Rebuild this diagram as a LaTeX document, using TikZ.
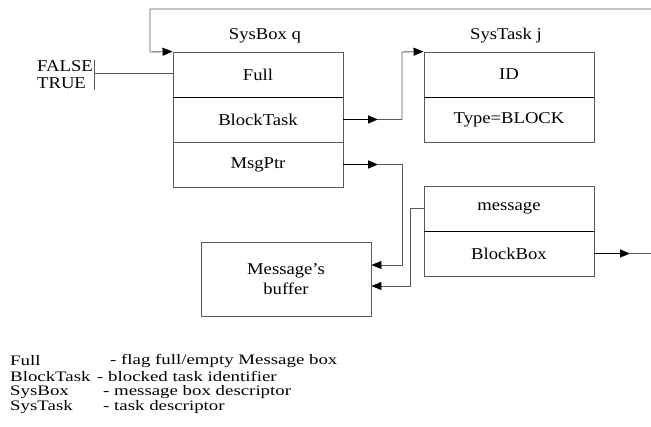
\documentclass[tikz,border=0pt]{standalone}
\usepackage{fontspec}
\setmainfont{Liberation Serif}
\newfontfamily\diagfont[FakeStretch=1.13]{Liberation Serif}
\newfontfamily\legfont[FakeStretch=1.3]{Liberation Serif}
\usetikzlibrary{arrows.meta}
\begin{document}
\begin{tikzpicture}[x=1pt,y=-1pt,
  field/.style={draw=black!65, line width=0.9pt, minimum width=170pt, minimum height=45pt,
    inner sep=0pt, font=\diagfont\fontsize{16.5}{20}\selectfont},
  lbl/.style={inner sep=0pt, font=\diagfont\fontsize{16.5}{20}\selectfont},
  leg/.style={inner sep=0pt, anchor=west, font=\legfont\fontsize{14.5}{15}\selectfont},
  tip/.style={-{Triangle[length=10pt,width=8pt,black]}},
  lead/.style={line width=1.4pt, black, tip},
  wire/.style={line width=0.9pt, black!65},
  divider/.style={line width=1.3pt, black}
]
\useasboundingbox (0,0) rectangle (651,427);

% SysBox
\node[lbl] (sysboxq) at (265,36) {SysBox q};
\node[field] (full) at (258,74.5) {Full};
\node[field] (btask) at (258,119.5) {BlockTask};
\node[field] (msgptr) at (258,164.5) {MsgPtr};
\draw[divider] (full.south west) -- (full.south east);

% SysTask
\node[lbl] (systaskj) at (506,36) {SysTask j};
\node[field] (id) at (509,74.5) {ID};
\node[field] (type) at (509,119.5) {Type=BLOCK};
\draw[divider] (id.south west) -- (id.south east);

% message
\node[field] (message) at (509,208.5) {message};
\node[field] (blockbox) at (509,253.5) {BlockBox};
\draw[divider] (message.south west) -- (message.south east);

% buffer
\node[field, minimum height=74pt, align=center] (buffer) at (286,279) {Message’s\\buffer};

% FALSE / TRUE
\node[lbl, anchor=west] (false) at (37,66) {FALSE};
\node[lbl, anchor=west] (true) at (37,83) {TRUE};
\coordinate (bart) at (94,60);
\coordinate (barb) at (94,90);
\coordinate (flagpt) at (94,73);
\draw[wire] (bart) -- (barb);
\draw[wire] (flagpt) -- (flagpt -| full.west);

% top loop
\coordinate (topR) at (651,9);
\coordinate (loopA) at (150,9);
\coordinate (loopB) at (150,52);
\draw[wire, tip] (topR) -- (loopA) -- (loopB) -- (full.north west);

% BlockTask -> SysTask
\coordinate (bt1) at (378,119.5);
\coordinate (jogA) at (402,119.5);
\coordinate (jogB) at (402,52);
\draw[lead] (btask.east) -- (bt1);
\draw[wire, tip] (bt1) -- (jogA) -- (jogB) -- (id.north west);

% MsgPtr -> buffer
\coordinate (mp1) at (378,164.5);
\coordinate (mpA) at (402,164.5);
\coordinate (mpB) at (402,265);
\draw[lead] (msgptr.east) -- (mp1);
\draw[wire, tip] (mp1) -- (mpA) -- (mpB) -- (mpB -| buffer.east);

% message -> buffer
\coordinate (mC) at (410,208.5);
\coordinate (mD) at (410,286);
\draw[wire, tip] (message.west) -- (mC) -- (mD) -- (mD -| buffer.east);

% BlockBox ->
\coordinate (bb1) at (630,253.5);
\coordinate (bbR) at (651,253.5);
\draw[lead] (blockbox.east) -- (bb1);
\draw[wire] (bb1) -- (bbR);

% legend
\node[leg] (lk1) at (10,361) {Full};
\node[leg] (lv1) at (110,361) {- flag full/empty Message box};
\node[leg] (lk2) at (10,376.5) {BlockTask};
\node[leg] (lv2) at (97,376.5) {- blocked task identifier};
\node[leg] (lk3) at (10,392) {SysBox};
\node[leg] (lv3) at (103,392) {- message box descriptor};
\node[leg] (lk4) at (10,407.5) {SysTask};
\node[leg] (lv4) at (103,407.5) {- task descriptor};
\end{tikzpicture}
\end{document}
